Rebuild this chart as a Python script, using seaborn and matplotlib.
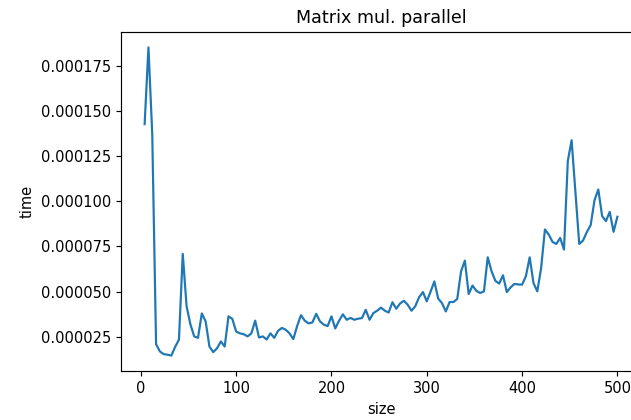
import matplotlib
matplotlib.use("Agg")
import matplotlib.pyplot as plt
import seaborn as sns
import pandas as pd

# matrix sizes (step 4)
sizes = list(range(4, 501, 4))

times_us = [
    142.6, 185.0, 137.0, 21.0, 17.0, 15.5, 15.2, 14.7, 19.5, 23.5,   # 4..40
    70.9, 42.0, 32.0, 25.3, 24.5, 38.0, 33.6, 19.7, 16.6, 18.8,      # 44..80
    22.5, 19.7, 36.4, 35.0, 28.0, 27.0, 26.5, 25.3, 27.0, 34.0,      # 84..120
    24.7, 25.3, 23.6, 27.0, 24.5, 28.4, 30.0, 29.0, 27.0, 23.8,      # 124..160
    31.0, 37.0, 34.0, 32.5, 33.0, 37.8, 33.6, 31.8, 31.0, 36.4,      # 164..200
    29.7, 34.0, 37.5, 34.5, 35.5, 34.5, 35.1, 35.4, 40.0, 34.5,      # 204..240
    38.2, 39.5, 41.2, 39.5, 38.5, 44.2, 40.6, 43.5, 45.0, 42.8,      # 244..280
    39.5, 42.0, 47.0, 49.8, 44.7, 50.0, 55.7, 46.2, 43.7, 39.1,      # 284..320
    44.3, 44.3, 46.0, 61.3, 67.2, 48.7, 53.4, 50.5, 49.3, 50.2,      # 324..360
    69.0, 61.3, 56.0, 54.5, 59.1, 49.8, 52.4, 54.3, 54.0, 53.9,      # 364..400
    58.5, 69.0, 54.8, 50.2, 63.1, 84.4, 81.6, 77.5, 76.4, 79.7,      # 404..440
    73.3, 122.2, 133.7, 105.0, 76.4, 78.3, 83.0, 86.8, 100.5, 106.5, # 444..480
    91.8, 89.0, 94.1, 83.1, 91.4,                                    # 484..500
]
times = [v * 1e-6 for v in times_us]

df = pd.DataFrame({"size": sizes, "time": times})

DPI = 105.17
fig = plt.figure(figsize=(631 / DPI, 420 / DPI), dpi=DPI)
ax = fig.add_axes([121 / 631, 49 / 420, 520 / 631, 339 / 420])

sns.lineplot(data=df, x="size", y="time", ax=ax, color="#1f77b4", linewidth=1.5)

ax.set_title("Matrix mul. parallel")
ax.set_xlabel("size")
ax.set_ylabel("time")
ax.set_xticks([0, 100, 200, 300, 400, 500])

fig.savefig("out.png", dpi=DPI)
